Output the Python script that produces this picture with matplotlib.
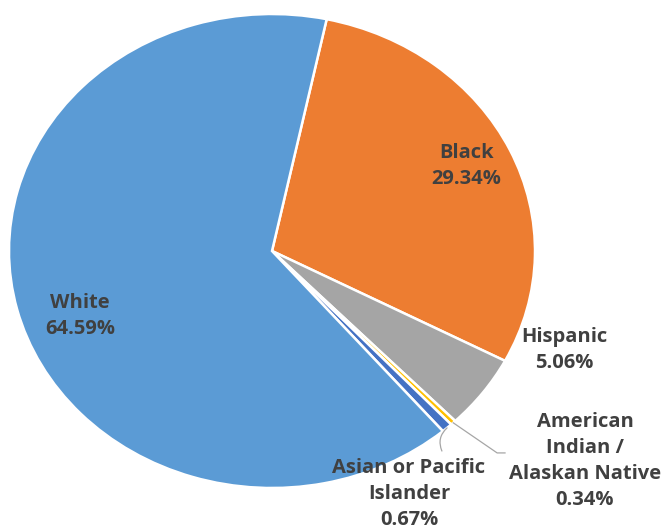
import matplotlib
matplotlib.use("Agg")
import matplotlib.pyplot as plt
import numpy as np

categories = ["Black", "Hispanic", "American\nIndian /\nAlaskan Native", "Asian or Pacific\nIslander", "White"]
values = [29.34, 5.06, 0.34, 0.67, 64.59]
colors = ["#ED7D31", "#A5A5A5", "#FFC000", "#4472C4", "#5B9BD5"]

W, H = 663, 529
fig = plt.figure(figsize=(W / 100, H / 100), dpi=100)
# ellipse spans px x 9..535, y 14..488
ax = fig.add_axes([9 / W, (H - 488) / H, 526 / W, 474 / H])
wedges, _ = ax.pie(values, colors=colors, startangle=78, counterclock=False,
                   wedgeprops=dict(edgecolor="white", linewidth=1.8))
ax.set_aspect("auto")
ax.set_xlim(-1, 1)
ax.set_ylim(-1, 1)
ax.axis("off")

tc = "#404040"
font = dict(family="Open Sans", fontweight="bold", fontsize=14.5, color=tc,
            ha="center", va="center", linespacing=1.42)

label_pos = {
    0: (0.738, 0.359),
    4: (-0.730, -0.274),
    1: (1.110, -0.418),
    2: (1.190, -0.886),
    3: (0.521, -1.025),
}
for i, (cat, v) in enumerate(zip(categories, values)):
    x, y = label_pos[i]
    ax.text(x, y, f"{cat}\n{v:.2f}%", **font)

# leader lines
def edge_point(w):
    mid = np.deg2rad((w.theta1 + w.theta2) / 2)
    return np.cos(mid), np.sin(mid)

lc = "#A6A6A6"
x0, y0 = edge_point(wedges[2])
ax.plot([x0, 0.856, 0.886], [y0, -0.852, -0.852], color=lc, lw=0.9)
x1, y1 = edge_point(wedges[3])
ax.annotate("", xy=(x1, y1), xytext=(0.646, -0.844),
            arrowprops=dict(arrowstyle="-", color=lc, lw=0.9,
                            connectionstyle="arc3,rad=-0.35", shrinkA=0, shrinkB=0))

fig.savefig("out.png", dpi=100)
